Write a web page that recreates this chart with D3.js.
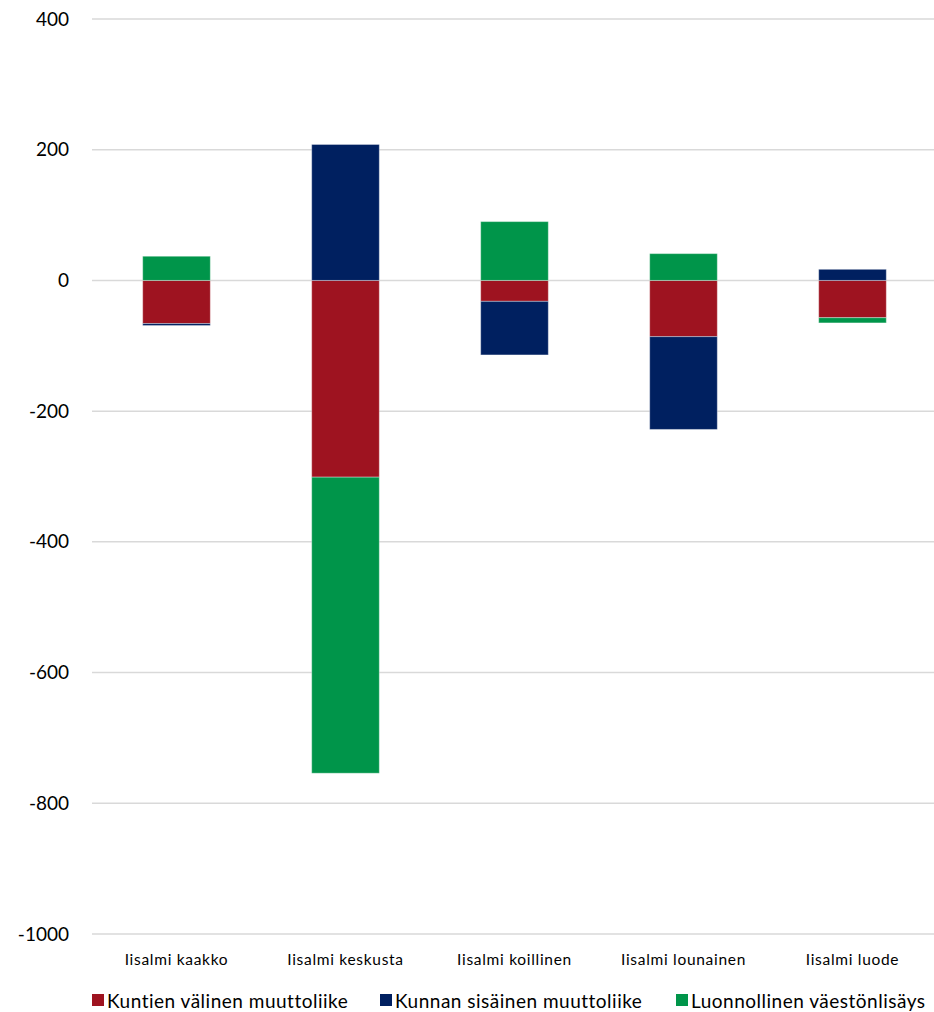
<!DOCTYPE html>
<html><head><meta charset="utf-8">
<script src="https://cdn.jsdelivr.net/npm/d3@7"></script>
<style>body{margin:0;background:#fff;} svg{display:block;}</style>
</head><body>
<svg id="chart" width="934" height="1012"></svg>
<script>
const categories = ["Iisalmi kaakko","Iisalmi keskusta","Iisalmi koillinen","Iisalmi lounainen","Iisalmi luode"];
const seriesNames = ["Kuntien välinen muuttoliike","Kunnan sisäinen muuttoliike","Luonnollinen väestönlisäys"];
const kuntienValinen = [-66, -301, -32, -86, -57];
const kunnanSisainen = [-3, 208, -82, -142, 17];
const luonnollinen = [37, -453, 90, 41, -8];
const yTicks = [400, 200, 0, -200, -400, -600, -800, -1000];
const colors = ["#9E1320", "#002060", "#00954A"];

const svg = d3.select("#chart");
const font = "Lato, 'Open Sans', sans-serif";
const x = d3.scaleBand().domain(categories).range([92, 937]).paddingInner(0.6).paddingOuter(0.3);
const y = d3.scaleLinear().domain([-1000, 400]).range([934, 19]);

const rows = categories.map((c, i) => ({
  cat: c,
  [seriesNames[0]]: kuntienValinen[i],
  [seriesNames[1]]: kunnanSisainen[i],
  [seriesNames[2]]: luonnollinen[i]
}));
const stack = d3.stack().keys(seriesNames).offset(d3.stackOffsetDiverging);
const stacked = stack(rows);

// gridlines
svg.append("g").selectAll("line").data(yTicks).join("line")
  .attr("x1", 92).attr("x2", 934)
  .attr("y1", d => y(d)).attr("y2", d => y(d))
  .attr("stroke", "#d9d9d9").attr("stroke-width", 1.5);

// y axis labels
const yAxis = d3.axisLeft(y).tickValues(yTicks).tickSize(0).tickPadding(0).tickFormat(d => String(d));
const yg = svg.append("g").attr("transform", "translate(69,0)").call(yAxis);
yg.select(".domain").remove();
yg.selectAll("text").attr("font-family", font).attr("font-size", 19).attr("fill", "#000");

// bars
svg.append("g").selectAll("g").data(stacked).join("g")
  .attr("fill", (d, i) => colors[i])
  .selectAll("rect").data(d => d).join("rect")
  .attr("x", d => x(d.data.cat))
  .attr("width", x.bandwidth())
  .attr("y", d => y(Math.max(d[0], d[1])))
  .attr("height", d => Math.abs(y(d[0]) - y(d[1])))
  .attr("stroke", "#ffffff").attr("stroke-opacity", 0.35).attr("stroke-width", 1);

// category labels
const xAxis = d3.axisBottom(x).tickSize(0).tickPadding(0);
const xg = svg.append("g").attr("transform", "translate(0,951)").call(xAxis);
xg.select(".domain").remove();
xg.selectAll("text").attr("font-family", font).attr("font-size", 15.5).attr("letter-spacing", "0.7px")
  .attr("fill", "#000").attr("dy", "0.9em");

// legend
const legendX = [92, 380, 676];
const lg = svg.append("g").selectAll("g").data(seriesNames).join("g")
  .attr("transform", (d, i) => `translate(${legendX[i]},1001)`);
lg.append("rect").attr("x", 0).attr("y", -7).attr("width", 12).attr("height", 12)
  .attr("fill", (d, i) => colors[i]);
lg.append("text").attr("x", 15).attr("y", 0).attr("dy", "0.35em")
  .attr("font-family", font).attr("font-size", 19).attr("letter-spacing", "0.5px")
  .attr("fill", "#000").text(d => d);
</script>
</body></html>
